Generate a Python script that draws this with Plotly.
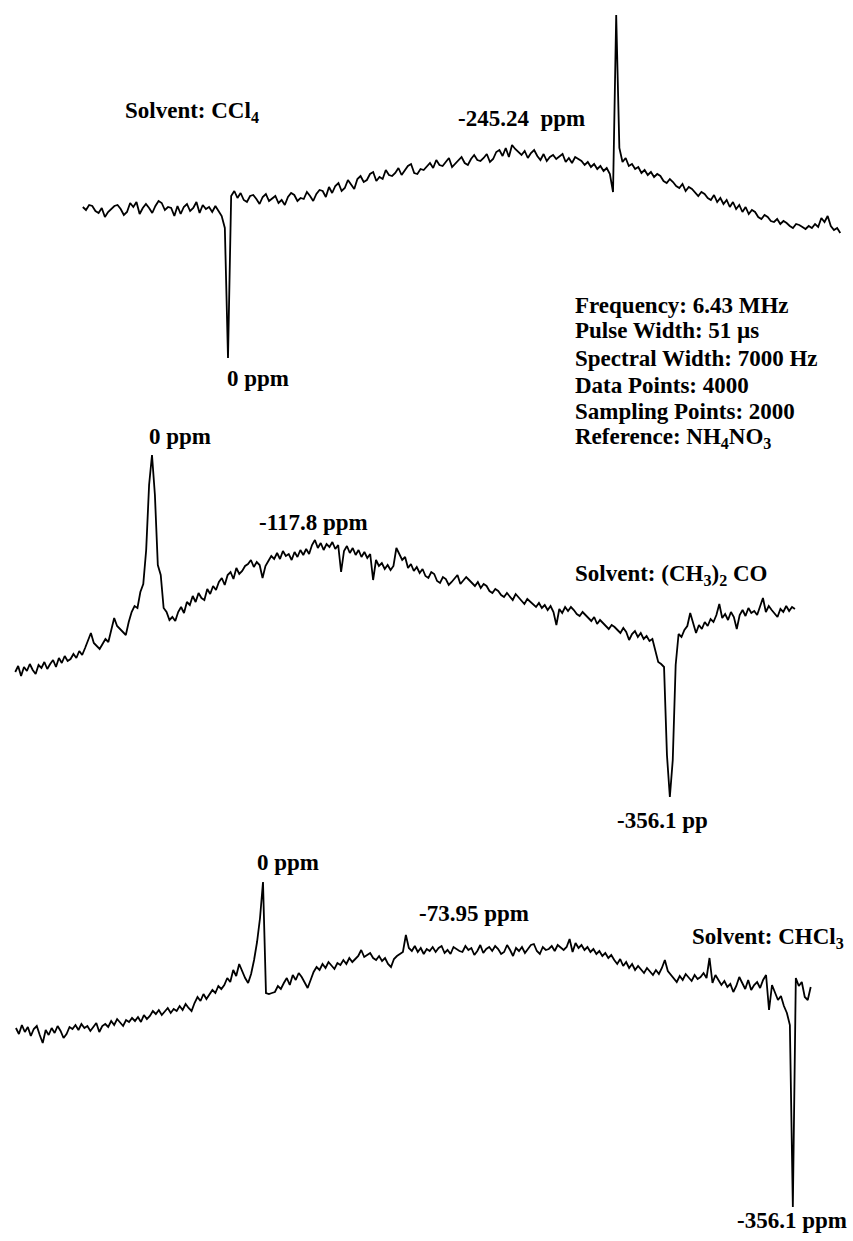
import plotly.graph_objects as go

# ---------------- data (chemical shift in ppm, intensity in arbitrary units) -------------
# Spectrum 1: solvent CCl4 (sampled every 2 ppm from +92 to -388 ppm)
ppm_ccl4 = list(range(92, -389, -2))
int_ccl4 = [
    3, 0, 5, 4, -1, -3, 2, -7, -2, 1,
    4, 5, 1, -5, -2, 7, 3, 8, -4, 2,
    6, 2, -3, 4, 9, 7, 0, 3, 2, -6,
    4, -4, 3, 6, -1, 2, 8, -3, 5, 1,
    3, -2, 4, -1, -6, -18, -148, 14, 19, 12,
    17, 10, 8, 14, 15, 11, 6, 13, 16, 9,
    12, 14, 7, 10, 5, 13, 17, 15, 9, 12,
    11, 18, 14, 9, 16, 20, 19, 13, 23, 17,
    24, 27, 19, 22, 30, 25, 21, 31, 34, 28,
    30, 36, 38, 29, 33, 31, 40, 35, 34, 37,
    42, 35, 39, 44, 46, 37, 36, 41, 40, 43,
    47, 42, 50, 45, 44, 48, 52, 43, 46, 49,
    53, 47, 45, 51, 55, 50, 49, 52, 56, 48,
    51, 58, 60, 54, 62, 53, 65, 61, 58, 55,
    59, 52, 57, 60, 54, 50, 56, 49, 53, 55,
    51, 54, 56, 48, 52, 47, 53, 51, 49, 45,
    48, 43, 46, 41, 44, 39, 42, 36, 18, 195,
    62, 48, 52, 44, 46, 41, 43, 37, 40, 35,
    38, 33, 36, 34, 29, 27, 31, 28, 24, 22,
    26, 19, 23, 21, 17, 14, 18, 16, 12, 10,
    15, 8, 12, 6, 10, 3, 8, 1, 5, -2,
    3, -4, 0, -2, -7, -9, -5, -7, -11, -12,
    -9, -14, -11, -13, -16, -18, -14, -15, -17, -19,
    -16, -18, -14, -17, -8, -12, -6, -16, -20, -18,
    -23,
]

# Spectrum 2: solvent (CH3)2CO (every 2 ppm from +94 to -442 ppm)
ppm_acetone = list(range(94, -443, -2))
int_acetone = [
    -2, 4, -6, 3, -1, 6, 0, -4, 5, 2,
    8, 1, 6, 10, 3, 12, 7, 14, 9, 11,
    16, 12, 19, 15, 22, 30, 37, 27, 24, 21,
    26, 31, 28, 40, 52, 44, 41, 37, 35, 48,
    58, 64, 62, 78, 86, 120, 185, 215, 175, 105,
    95, 62, 58, 50, 53, 49, 58, 63, 57, 68,
    65, 74, 68, 77, 72, 70, 81, 76, 84, 80,
    88, 92, 85, 95, 98, 91, 102, 96, 99, 104,
    106, 110, 103, 108, 105, 92, 104, 109, 114, 111,
    117, 111, 119, 114, 116, 110, 118, 113, 120, 115,
    121, 116, 125, 130, 122, 127, 120, 126, 123, 128,
    121, 125, 98, 119, 124, 117, 122, 115, 120, 113,
    118, 112, 116, 90, 110, 104, 107, 101, 105, 100,
    104, 122, 116, 110, 113, 102, 106, 99, 103, 97,
    101, 94, 92, 98, 96, 89, 87, 93, 91, 85,
    88, 92, 95, 86, 89, 93, 90, 87, 84, 88,
    82, 86, 84, 79, 77, 81, 79, 75, 73, 77,
    74, 70, 76, 73, 69, 66, 71, 68, 65, 63,
    67, 62, 65, 60, 64, 58, 45, 61, 57, 63,
    59, 63, 60, 56, 54, 58, 55, 52, 49, 53,
    46, 50, 47, 44, 41, 45, 43, 40, 37, 42,
    38, 30, 36, 39, 33, 37, 31, 34, 29, 31,
    20, 8, 6, 3, -85, -127, -90, 5, 36, 33,
    40, 44, 57, 46, 37, 45, 41, 48, 44, 51,
    48, 55, 66, 52, 56, 50, 58, 53, 41, 55,
    60, 54, 62, 57, 59, 55, 63, 72, 58, 64,
    60, 56, 53, 61, 58, 64, 59, 63, 61,
]

# Spectrum 3: solvent CHCl3 (every 2 ppm from +166 to -368 ppm)
ppm_chcl3 = list(range(166, -369, -2))
int_chcl3 = [
    2, -4, 5, -2, 3, -6, 1, 4, -5, -13,
    0, -5, 2, -3, 4, -1, -8, -4, 3, 1,
    5, 0, 6, 2, 4, -1, 3, 7, -2, 4,
    6, 3, 9, 5, 11, 7, 4, 10, 8, 12,
    9, 13, 8, 15, 11, 14, 19, 16, 20, 15,
    18, 22, 17, 21, 19, 24, 20, 26, 22, 19,
    27, 33, 29, 36, 31, 35, 40, 37, 44, 41,
    45, 52, 48, 60, 54, 66, 58, 52, 47, 56,
    70, 88, 112, 148, 37, 36, 37, 38, 44, 41,
    47, 52, 45, 55, 50, 57, 53, 48, 42, 50,
    58, 63, 60, 66, 62, 68, 64, 61, 67, 65,
    70, 66, 72, 68, 71, 74, 80, 73, 75, 77,
    72, 70, 74, 69, 72, 66, 63, 71, 74, 76,
    78, 95, 82, 79, 84, 78, 82, 76, 81, 79,
    83, 78, 82, 84, 77, 80, 76, 83, 81, 79,
    78, 84, 80, 82, 75, 79, 85, 77, 81, 83,
    79, 84, 81, 76, 78, 85, 80, 74, 82, 79,
    83, 77, 81, 85, 86, 79, 76, 83, 80, 81,
    84, 79, 85, 82, 80, 83, 91, 78, 87, 82,
    85, 80, 83, 78, 81, 76, 79, 74, 77, 72,
    75, 70, 66, 71, 64, 68, 62, 66, 60, 64,
    61, 57, 62, 58, 55, 60, 56, 62, 70, 59,
    55, 52, 48, 54, 50, 56, 52, 49, 55, 51,
    53, 57, 52, 72, 47, 55, 50, 45, 49, 43,
    46, 38, 44, 53, 47, 41, 50, 40, 45, 48,
    42, 50, 55, 20, 45, 38, 30, 34, 24, 17,
    5, -177, 52, 44, 48, 33, 30, 43,
]

assert len(ppm_ccl4) == len(int_ccl4), (len(ppm_ccl4), len(int_ccl4))
assert len(ppm_acetone) == len(int_acetone), (len(ppm_acetone), len(int_acetone))
assert len(ppm_chcl3) == len(int_chcl3), (len(ppm_chcl3), len(int_chcl3))

# ---------------- layout geometry (page pixels) ----------------
W, H = 853, 1241
# (pixel x of 0 ppm, pixels per ppm, pixel y of intensity zero)
geom = [
    (228.0, 387.0 / 245.24, 210.0),
    (152.0, 518.0 / 356.1, 670.0),
    (263.0, 530.0 / 356.1, 1030.0),
]

fig = go.Figure()
series = [(ppm_ccl4, int_ccl4), (ppm_acetone, int_acetone), (ppm_chcl3, int_chcl3)]
for i, (xs, ys) in enumerate(series, start=1):
    fig.add_trace(go.Scatter(
        x=xs, y=ys, mode="lines",
        line=dict(color="black", width=1.8),
        xaxis="x" if i == 1 else f"x{i}",
        yaxis="y" if i == 1 else f"y{i}",
        showlegend=False, hoverinfo="skip",
    ))

axis_common = dict(visible=False, showgrid=False, zeroline=False, fixedrange=True)
layout_axes = {}
for i, (p0, s, y0) in enumerate(geom, start=1):
    xk = "xaxis" if i == 1 else f"xaxis{i}"
    yk = "yaxis" if i == 1 else f"yaxis{i}"
    xa = dict(axis_common, range=[p0 / s, (p0 - W) / s], domain=[0, 1])
    ya = dict(axis_common, range=[y0 - H, y0], domain=[0, 1])
    if i > 1:
        xa.update(overlaying="x", anchor=f"y{i}")
        ya.update(overlaying="y", anchor=f"x{i}")
    layout_axes[xk] = xa
    layout_axes[yk] = ya

FONT = dict(family="Liberation Serif, Times New Roman, serif", size=23,
            color="black", weight="bold")


def label(text, px, py, anchor="left"):
    return dict(
        text=text, x=px / W, y=1 - py / H, xref="paper", yref="paper",
        xanchor=anchor, yanchor="middle", showarrow=False, font=FONT,
    )


annotations = [
    label("Solvent: CCl<sub>4</sub>", 123, 112),
    label("-245.24\u00a0\u00a0ppm", 456, 118),
    label("0 ppm", 225, 378),
    label("Frequency: 6.43 MHz", 573, 305),
    label("Pulse Width: 51 \u00b5s", 573, 331),
    label("Spectral Width: 7000 Hz", 573, 358),
    label("Data Points: 4000", 573, 385),
    label("Sampling Points: 2000", 573, 411),
    label("Reference: NH<sub>4</sub>NO<sub>3</sub>", 573, 438),
    label("0 ppm", 147, 436),
    label("-117.8 ppm", 257, 522),
    label("Solvent: (CH<sub>3</sub>)<sub>2</sub> CO", 573, 575),
    label("-356.1 pp", 615, 820),
    label("0 ppm", 255, 862),
    label("-73.95 ppm", 417, 913),
    label("Solvent: CHCl<sub>3</sub>", 690, 938),
    label("-356.1 ppm", 735, 1220),
]

fig.update_layout(
    width=W, height=H,
    margin=dict(l=0, r=0, t=0, b=0, pad=0),
    paper_bgcolor="white", plot_bgcolor="white",
    annotations=annotations,
    **layout_axes,
)

fig.write_html("out.html", config={"displayModeBar": False},
               post_script="document.body.style.margin='0';")
